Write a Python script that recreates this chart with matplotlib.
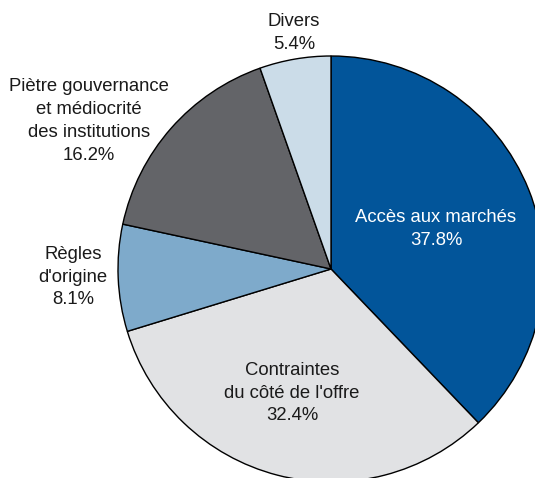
import matplotlib.pyplot as plt

# shares of reported obstacles, clockwise from the top
labels = ["Accès aux marchés", "Contraintes\ndu côté de l'offre", "Règles\nd'origine",
          "Piètre gouvernance\net médiocrité\ndes institutions", "Divers"]
shares = [37.8, 32.4, 8.1, 16.2, 5.4]
colors = ["#02559a", "#e1e2e4", "#7eaacb", "#636468", "#cbdce8"]

plt.rcParams['font.family'] = ['Liberation Sans', 'DejaVu Sans']

W, H = 535, 478
fig = plt.figure(figsize=(W / 100, H / 100), dpi=100)
ax = fig.add_axes([0, 0, 1, 1])

cx, cy, r = 331, H - 269, 213
ax.pie(shares, colors=colors, startangle=90, counterclock=False,
       center=(cx, cy), radius=r, frame=True,
       wedgeprops=dict(edgecolor='black', linewidth=1.0))
ax.set_xlim(0, W)
ax.set_ylim(0, H)
ax.set_aspect('auto')
ax.axis('off')

# label positions in pixel coords (x, y from top)
spots = [(436, 229, 'white'), (292, 393, '#1a1a1a'), (73, 277, '#1a1a1a'),
         (89, 121, '#1a1a1a'), (294, 33, '#1a1a1a')]
for lab, val, (x, y, c) in zip(labels, shares, spots):
    ax.text(x, H - y, f"{lab}\n{val:.1f}%", ha='center', va='center',
            fontsize=13.3, color=c, linespacing=1.45)

fig.savefig("out.png", dpi=100)
